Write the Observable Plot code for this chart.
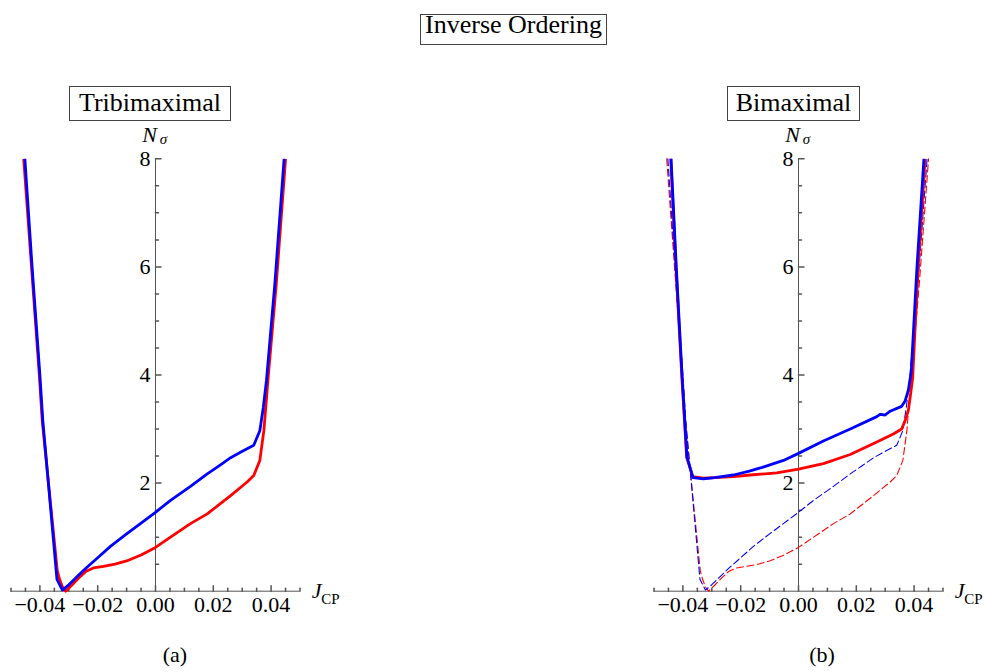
<!DOCTYPE html>
<html>
<head>
<meta charset="utf-8">
<script src="https://cdn.jsdelivr.net/npm/d3@7"></script>
<script src="https://cdn.jsdelivr.net/npm/@observablehq/plot@0.6"></script>
<style>
  body { margin: 0; background: #fff; }
  #page { position: relative; width: 984px; height: 672px; overflow: hidden;
          font-family: "Liberation Serif", "Times New Roman", "DejaVu Serif", serif; color: #000; background: #fff; }
  .box { position: absolute; box-sizing: border-box; border: 1px solid #444;
         text-align: center; font-size: 26px; white-space: nowrap; }
  .panel { position: absolute; top: 130px; }
  .cap { position: absolute; width: 100px; text-align: center; font-size: 22px;
         line-height: 22px; top: 644px; }
</style>
</head>
<body>
<div id="page">
  <div class="box" style="left:420px;top:14px;width:187px;height:31px;line-height:19px;">Inverse Ordering</div>
  <div class="box" style="left:69px;top:86px;width:162px;height:35px;line-height:32.5px;">Tribimaximal</div>
  <div class="box" style="left:727px;top:86px;width:133px;height:35px;line-height:32.5px;">Bimaximal</div>
  <div class="panel" id="panel-a" style="left:0px;"></div>
  <div class="panel" id="panel-b" style="left:643px;"></div>
  <div class="cap" style="left:125px;">(a)</div>
  <div class="cap" style="left:772px;">(b)</div>
</div>
<script>
// Axis ticks and labels
const xMajor = [-0.04, -0.02, 0, 0.02, 0.04];
const xMajorLabels = ["−0.04", "−0.02", "0.00", "0.02", "0.04"];
const xMinor = [-0.05, -0.045, -0.035, -0.03, -0.025, -0.015, -0.01, -0.005,
                0.005, 0.01, 0.015, 0.025, 0.03, 0.035, 0.045, 0.05];
const yMajor = [2, 4, 6, 8];
const yMajorLabels = ["2", "4", "6", "8"];
const yMinor = [0.5, 1, 1.5, 2.5, 3, 3.5, 4.5, 5, 5.5, 6.5, 7, 7.5];

// N_sigma versus J_CP, tribimaximal case, [J_CP, N_sigma]
const tribiRed = [
  [-0.0456, 8.0], [-0.0429, 6.0], [-0.0402, 4.0], [-0.0392, 3.16], [-0.0340, 0.38],
  [-0.0332, 0.22], [-0.0322, 0.08], [-0.0311, 0.0], [-0.0290, 0.11], [-0.0265, 0.25],
  [-0.0240, 0.37], [-0.0215, 0.43], [-0.0180, 0.46], [-0.0140, 0.50], [-0.0100, 0.56],
  [-0.0050, 0.67], [0.0000, 0.81], [0.0052, 1.00], [0.0121, 1.25], [0.0179, 1.43],
  [0.0260, 1.77], [0.0317, 2.02], [0.0340, 2.14], [0.0361, 2.42], [0.0375, 2.97],
  [0.0389, 3.90], [0.0418, 5.69], [0.0450, 8.0]
];
const tribiBlue = [
  [-0.0452, 8.0], [-0.0427, 6.0], [-0.0400, 4.0], [-0.0390, 3.16], [-0.0341, 0.22],
  [-0.0322, 0.02], [-0.0300, 0.12], [-0.0271, 0.27], [-0.0240, 0.43], [-0.0200, 0.62],
  [-0.0156, 0.83], [-0.0100, 1.06], [-0.0050, 1.26], [0.0000, 1.46], [0.0052, 1.68],
  [0.0121, 1.94], [0.0179, 2.17], [0.0220, 2.32], [0.0260, 2.47], [0.0294, 2.57],
  [0.0340, 2.70], [0.0361, 2.97], [0.0373, 3.40], [0.0384, 3.90], [0.0413, 5.69],
  [0.0445, 8.0]
];

// N_sigma versus J_CP, bimaximal case
const bimaxRed = [
  [-0.0442, 8.0], [-0.0424, 6.0], [-0.0404, 4.0], [-0.0387, 2.48], [-0.0366, 2.12],
  [-0.0330, 2.09], [-0.0290, 2.10], [-0.0225, 2.12], [-0.0167, 2.15], [-0.0075, 2.19],
  [0.0000, 2.26], [0.0086, 2.36], [0.0179, 2.53], [0.0271, 2.76], [0.0328, 2.91],
  [0.0357, 3.00], [0.0369, 3.16], [0.0380, 3.34], [0.0388, 3.65], [0.0395, 3.95],
  [0.0414, 6.0], [0.0438, 8.0]
];
const bimaxBlue = [
  [-0.0441, 8.0], [-0.0423, 6.0], [-0.0403, 4.0], [-0.0386, 2.48], [-0.0365, 2.10],
  [-0.0330, 2.08], [-0.0290, 2.10], [-0.0225, 2.15], [-0.0170, 2.22], [-0.0132, 2.28],
  [-0.0052, 2.42], [0.0000, 2.55], [0.0086, 2.78], [0.0179, 3.00], [0.0271, 3.23],
  [0.0282, 3.27], [0.0300, 3.26], [0.0317, 3.33], [0.0357, 3.42], [0.0369, 3.52],
  [0.0380, 3.72], [0.0390, 4.05], [0.0410, 6.0], [0.0434, 8.0]
];

const RED = "#ff0000";
const BLUE = "#0000ff";
const AXIS = "#555";
const FONT = "'Liberation Serif', 'Times New Roman', 'DejaVu Serif', serif";

// a plain line segment pointing along the vector direction (used for axis ticks)
const tickShape = { draw(ctx, l) { ctx.moveTo(0, 0); ctx.lineTo(0, -l); } };

function solid(data, color) {
  return Plot.line(data, { x: d => d[0], y: d => d[1], stroke: color, strokeWidth: 2.8,
                           strokeLinejoin: "round", strokeLinecap: "butt" });
}
function dashed(data, color) {
  return Plot.line(data, { x: d => d[0], y: d => d[1], stroke: color, strokeWidth: 1.1,
                           strokeDasharray: "7,3.5" });
}

function panel(curveMarks) {
  return Plot.plot({
    width: 341,
    height: 490,
    marginLeft: 10.5,
    marginRight: 41.5,
    marginTop: 28.3,
    marginBottom: 29.3,
    style: { fontFamily: FONT, background: "transparent", overflow: "visible" },
    x: { domain: [-0.05, 0.05], axis: null },
    y: { domain: [0, 8], axis: null },
    marks: [
      // axes crossing at the origin
      Plot.ruleY([0], { stroke: AXIS, strokeWidth: 1 }),
      Plot.ruleX([0], { y1: 0, y2: 8, stroke: AXIS, strokeWidth: 1 }),
      Plot.vector(xMajor, { x: d => d, y: 0, length: 5.5, anchor: "start", shape: tickShape, stroke: AXIS }),
      Plot.vector(xMinor, { x: d => d, y: 0, length: 3, anchor: "start", shape: tickShape, stroke: AXIS }),
      Plot.vector(yMajor, { x: 0, y: d => d, length: 5.5, rotate: 90, anchor: "start", shape: tickShape, stroke: AXIS }),
      Plot.vector(yMinor, { x: 0, y: d => d, length: 3, rotate: 90, anchor: "start", shape: tickShape, stroke: AXIS }),
      Plot.text(xMajor, { x: d => d, y: 0, text: (d, i) => xMajorLabels[i], dy: 13.3,
                          fontSize: 22, fontFamily: FONT, fill: "#000" }),
      Plot.text(yMajor, { x: 0, y: d => d, text: (d, i) => yMajorLabels[i], textAnchor: "end", dx: -5,
                          fontSize: 22, fontFamily: FONT, fill: "#000" }),
      // axis titles N_sigma and J_CP
      Plot.text(["N"], { x: 0, y: 8, text: d => d, dx: -6, dy: -24, fontSize: 22,
                         fontStyle: "italic", fontFamily: FONT, fill: "#000" }),
      Plot.text(["σ"], { x: 0, y: 8, text: d => d, dx: 8, dy: -19.5, fontSize: 15,
                         fontStyle: "italic", fontFamily: FONT, fill: "#000" }),
      Plot.text(["J"], { x: 0.05, y: 0, text: d => d, dx: 16.5, dy: -0.7, fontSize: 22,
                         fontStyle: "italic", fontFamily: FONT, fill: "#000" }),
      Plot.text(["CP"], { x: 0.05, y: 0, text: d => d, dx: 30.5, dy: 7.5, fontSize: 15,
                          fontFamily: FONT, fill: "#000" }),
      ...curveMarks
    ]
  });
}

document.getElementById("panel-a").append(panel([
  solid(tribiRed, RED),
  solid(tribiBlue, BLUE)
]));

document.getElementById("panel-b").append(panel([
  dashed(tribiRed, RED),
  dashed(tribiBlue, BLUE),
  solid(bimaxRed, RED),
  solid(bimaxBlue, BLUE)
]));
</script>
</body>
</html>
